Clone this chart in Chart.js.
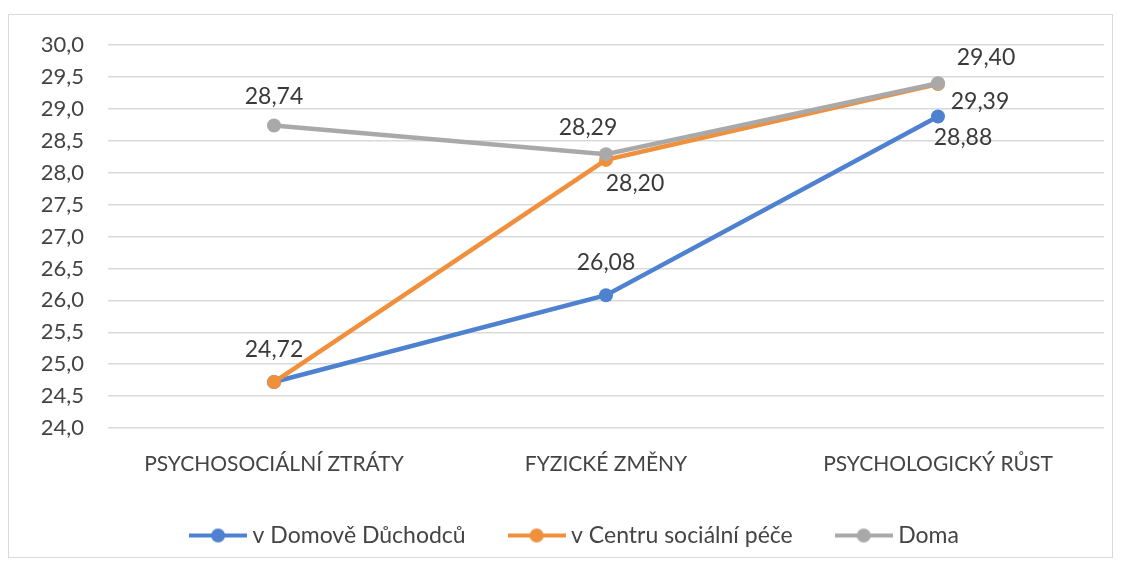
<!DOCTYPE html>
<html>
<head>
<meta charset="utf-8">
<script src="https://cdn.jsdelivr.net/npm/chart.js@4.4.1/dist/chart.umd.min.js"></script>
<style>
  body { margin: 0; background: #fff; }
  #wrap { position: relative; width: 1121px; height: 566px; }
  #frame { position: absolute; left: 8px; top: 14px; width: 1103px; height: 542px; border: 1px solid #d9d9d9; pointer-events: none; }
</style>
</head>
<body>
<div id="wrap">
  <canvas id="lineChart"></canvas>
  <div id="frame"></div>
</div>
<script>
const categories = ['PSYCHOSOCIÁLNÍ ZTRÁTY', 'FYZICKÉ ZMĚNY', 'PSYCHOLOGICKÝ RŮST'];
const seriesNames = ['v Domově Důchodců', 'v Centru sociální péče', 'Doma'];
const domovDuchodcu = [24.72, 26.08, 28.88];
const centrumPece = [24.72, 28.20, 29.39];
const doma = [28.74, 28.29, 29.40];
const yMin = 24.0, yMax = 30.0, yStep = 0.5;

const colors = ['#4f81d1', '#f08f3c', '#a9a9a9'];
// label offsets from each point (null = no label)
const labelOffsets = [
  [[0, -32], [0, -33], [25, 21]],
  [null, [29, 24], [42, 18]],
  [[0, -29], [-18, -27], [48, -26]]
];

const FONT = 'Lato, "Open Sans", sans-serif';
const TEXT = '#444444';
const fmt = v => v.toFixed(2).replace('.', ',');

function legendMarker(color) {
  const c = document.createElement('canvas');
  c.width = 58; c.height = 16;
  const g = c.getContext('2d');
  g.strokeStyle = color; g.lineWidth = 4;
  g.beginPath(); g.moveTo(0, 8); g.lineTo(58, 8); g.stroke();
  g.fillStyle = color;
  g.beginPath(); g.arc(29, 8, 7, 0, Math.PI * 2); g.fill();
  return c;
}

const dataLabels = {
  id: 'dataLabels',
  afterDatasetsDraw(chart) {
    const ctx = chart.ctx;
    ctx.save();
    ctx.font = '23px ' + FONT;
    ctx.fillStyle = '#3a3a3a';
    ctx.textAlign = 'center';
    ctx.textBaseline = 'middle';
    chart.data.datasets.forEach((ds, i) => {
      chart.getDatasetMeta(i).data.forEach((pt, j) => {
        const off = labelOffsets[i][j];
        if (!off) return;
        ctx.fillText(fmt(ds.data[j]), pt.x + off[0], pt.y + off[1]);
      });
    });
    ctx.restore();
  }
};

// legend sits centred under the plot area rather than the whole canvas
const legendShift = {
  id: 'legendShift',
  afterLayout(chart) {
    if (!chart.legend) return;
    chart.legend.left += 15;
    chart.legend.right += 15;
  }
};

const allSeries = [domovDuchodcu, centrumPece, doma];

new Chart(document.getElementById('lineChart'), {
  type: 'line',
  data: {
    labels: categories,
    datasets: allSeries.map((vals, i) => ({
      label: seriesNames[i],
      data: vals,
      borderColor: colors[i],
      backgroundColor: colors[i],
      borderWidth: 4.5,
      pointRadius: 7,
      pointHoverRadius: 7,
      pointBorderWidth: 0,
      tension: 0,
      order: 3 - i
    }))
  },
  options: {
    responsive: true,
    maintainAspectRatio: false,
    animation: false,
    layout: { padding: { left: 20, right: 17, top: 45, bottom: 9 } },
    scales: {
      x: {
        offset: true,
        grid: { display: false, drawTicks: false },
        border: { display: false },
        ticks: { font: { family: FONT, size: 21 }, color: TEXT, padding: 24 },
        afterFit: s => { s.height = 48; }
      },
      y: {
        min: yMin, max: yMax,
        grid: { color: '#d9d9d9', lineWidth: 1.5, drawTicks: false },
        border: { display: false },
        ticks: {
          stepSize: yStep,
          font: { family: FONT, size: 22 },
          color: TEXT,
          padding: 24,
          callback: v => v.toFixed(1).replace('.', ',')
        },
        afterFit: s => { s.width = 88; }
      }
    },
    plugins: {
      tooltip: { enabled: false },
      legend: {
        position: 'bottom',
        labels: {
          usePointStyle: true,
          pointStyleWidth: 46,
          padding: 48,
          color: TEXT,
          font: { family: FONT, size: 23 },
          generateLabels: chart => chart.data.datasets.map((ds, i) => ({
            text: ds.label,
            pointStyle: legendMarker(colors[i]),
            fillStyle: colors[i],
            strokeStyle: colors[i],
            lineWidth: 0,
            fontColor: TEXT,
            datasetIndex: i,
            hidden: false
          }))
        }
      }
    }
  },
  plugins: [dataLabels, legendShift]
});
</script>
</body>
</html>
